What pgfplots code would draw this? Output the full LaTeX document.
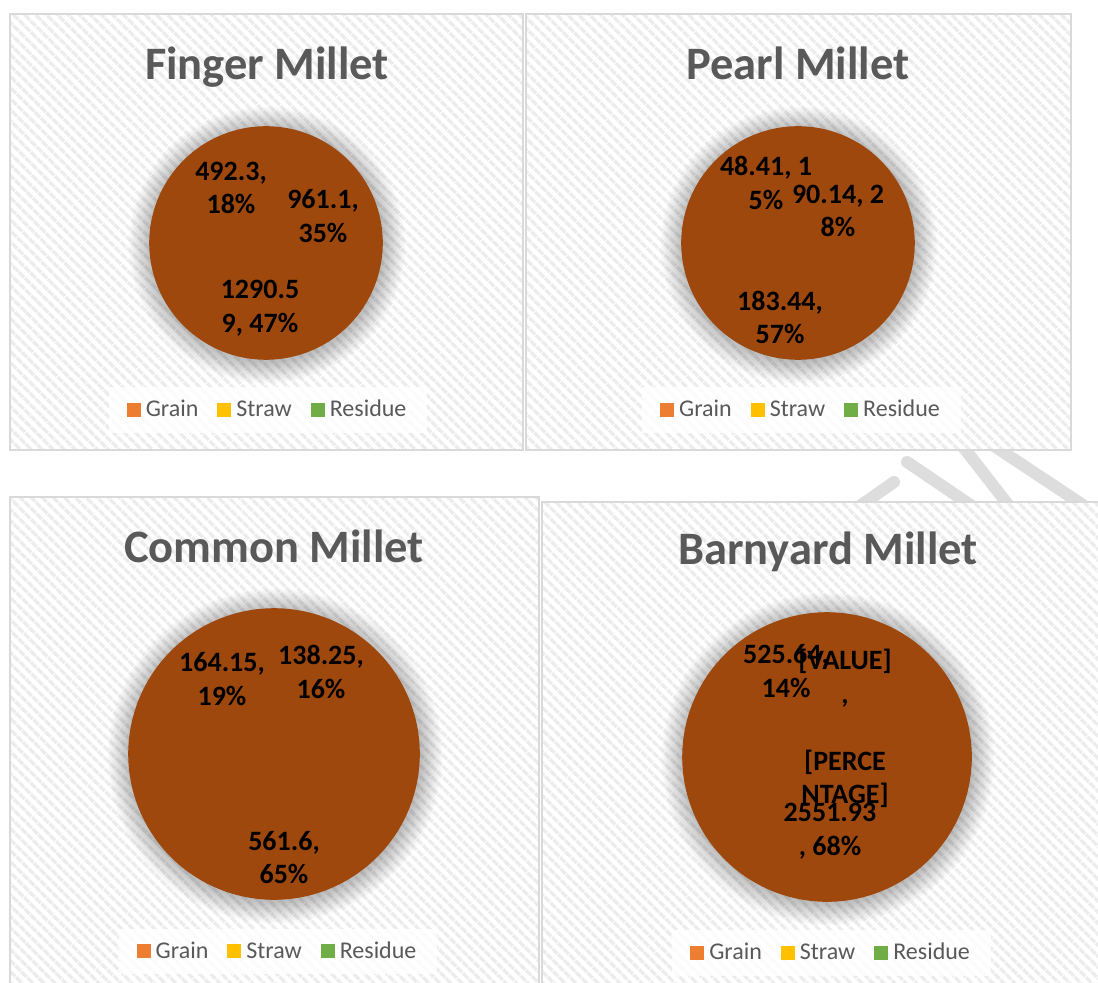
\documentclass[border=0pt]{standalone}
\usepackage{fontspec}
\setmainfont{Carlito}
\usepackage{pgfplots}
\pgfplotsset{compat=1.18}
\usepackage{pgfplotstable}
\usetikzlibrary{patterns.meta}

\definecolor{piebrown}{RGB}{158,72,14}
\definecolor{grainC}{RGB}{237,125,49}
\definecolor{strawC}{RGB}{255,192,0}
\definecolor{residueC}{RGB}{112,173,71}
\definecolor{titlegray}{RGB}{89,89,89}
\definecolor{bordergray}{RGB}{217,217,217}
\definecolor{stripe}{RGB}{236,236,236}
\definecolor{wm}{RGB}{221,221,221}

\pgfplotstableread{
part value
Grain 961.1
Straw 1290.59
Residue 492.3
}\fingerdata
\pgfplotstableread{
part value
Grain 90.14
Straw 183.44
Residue 48.41
}\pearldata
\pgfplotstableread{
part value
Grain 138.25
Straw 561.6
Residue 164.15
}\commondata
\pgfplotstableread{
part value
Grain 675.4
Straw 2551.93
Residue 525.64
}\barnyarddata

% slice angles (Excel: start at 12 o'clock, clockwise)
\newcommand\pieangles[1]{%
  \pgfplotstablegetelem{0}{value}\of#1\let\va\pgfplotsretval
  \pgfplotstablegetelem{1}{value}\of#1\let\vb\pgfplotsretval
  \pgfplotstablegetelem{2}{value}\of#1\let\vc\pgfplotsretval
  \pgfmathsetmacro\tot{\va+\vb+\vc}%
  \pgfmathsetmacro\aA{90}%
  \pgfmathsetmacro\aB{90-(\va/\tot)*360}%
  \pgfmathsetmacro\aC{\aB-(\vb/\tot)*360}%
  \pgfmathsetmacro\aD{\aC-(\vc/\tot)*360}%
}
\tikzset{wedge/.style={fill=piebrown, draw=piebrown, line width=0.8pt, line join=round}}
\newcommand\piewedges[1]{%
  \path[wedge] (axis cs:0,0) -- (axis cs:{#1*cos(\aA)},{#1*sin(\aA)}) arc[start angle=\aA, end angle=\aB, radius=#1*0.5pt] -- cycle;
  \path[wedge] (axis cs:0,0) -- (axis cs:{#1*cos(\aB)},{#1*sin(\aB)}) arc[start angle=\aB, end angle=\aC, radius=#1*0.5pt] -- cycle;
  \path[wedge] (axis cs:0,0) -- (axis cs:{#1*cos(\aC)},{#1*sin(\aC)}) arc[start angle=\aC, end angle=\aD, radius=#1*0.5pt] -- cycle;
}
\newcommand\pielegend{%
  \addlegendimage{legend image code/.code={\path[draw=none, opacity=0] (0pt,0pt) -- (8pt,0pt); \fill[grainC, draw=none, fill opacity=1] (0pt,-3.3pt) rectangle (7pt,3.7pt);}}
  \addlegendentry{Grain\vphantom{d}}
  \addlegendimage{legend image code/.code={\path[draw=none, opacity=0] (0pt,0pt) -- (8pt,0pt); \fill[strawC, draw=none, fill opacity=1] (0pt,-3.3pt) rectangle (7pt,3.7pt);}}
  \addlegendentry{Straw\vphantom{d}}
  \addlegendimage{legend image code/.code={\path[draw=none, opacity=0] (0pt,0pt) -- (8pt,0pt); \fill[residueC, draw=none, fill opacity=1] (0pt,-3.3pt) rectangle (7pt,3.7pt);}}
  \addlegendentry{Residue\vphantom{d}}
}

\pgfplotsset{
  pieaxis/.style={
    anchor=center, x=0.5pt, y=0.5pt,
    xmin=-#1, xmax=#1, ymin=-#1, ymax=#1,
    hide axis, scale only axis, clip=false,
    legend columns=3,
    legend cell align=left,
    legend style={draw=none, fill=white, fill opacity=0.8, text opacity=1,
      anchor=center, text=titlegray,
      font=\fontsize{12}{14}\selectfont,
      inner xsep=9pt, inner ysep=5pt,
      nodes={inner sep=1.5pt, font=\fontsize{12}{14}\selectfont},
      /tikz/every even column/.append style={column sep=8pt}},
  },
}
\tikzset{
  ttl/.style={anchor=base, text=titlegray, font=\bfseries\fontsize{23.25}{28}\selectfont},
  lbl/.style={align=center, text=black, font=\bfseries\fontsize{14}{16.75}\selectfont},
}

\begin{document}
\begin{tikzpicture}
\begin{scope}[x=0.5pt,y=-0.5pt]
  \path[use as bounding box, fill=white] (0,0) rectangle (1098,983);
  % watermark strokes visible between the panels
  \begin{scope}[wm, line width=6pt, line cap=round]
    \draw (840,520) -- (894,482);
    \draw (907,462) -- (1000,525);
    \draw (950,430) -- (1020,520);
    \draw (970,430) -- (1098,515);
  \end{scope}
  % panels
  \foreach \a/\b/\c/\d in {10/14/523/450, 526/14/1071/450, 10/497/539/995, 542/502/1110/995}{
    \fill[white] (\a,\b) rectangle (\c,\d);
    \fill[pattern={Lines[angle=-45,distance=4pt,line width=1.8pt]}, pattern color=stripe] (\a,\b) rectangle (\c,\d);
    \draw[bordergray, line width=1.2pt] (\a,\b) rectangle (\c,\d);
  }
  % soft shadows around pies
  \foreach \cx/\cy/\r in {266/243/116, 798/243/116, 274/754/145, 827/757/144}{
    \foreach \k in {1,...,16}{
      \fill[black, opacity=0.014] (\cx+1,\cy+2) circle[radius=\r+\k*1.4];
    }
  }
\end{scope}

% ---------- Finger Millet ----------
\pieangles{\fingerdata}
\begin{axis}[pieaxis=116, at={(133pt,-121.5pt)},
  legend style={at={(0.509,-0.2198)}}]
  \piewedges{116}
  \pielegend
  \node[ttl] at (axis cs:1,163) {Finger Millet};
  \node[lbl] at (axis cs:57,27) {961.1,\\35\%};
  \node[lbl] at (axis cs:-6,-65) {1290.5\\9, 47\%};
  \node[lbl] at (axis cs:-35,55) {492.3,\\18\%};
\end{axis}

% ---------- Pearl Millet ----------
\pieangles{\pearldata}
\begin{axis}[pieaxis=116, at={(399pt,-121.5pt)},
  legend style={at={(0.515,-0.2198)}}]
  \piewedges{116}
  \pielegend
  \node[ttl] at (axis cs:0,163) {Pearl Millet};
  \node[lbl] at (axis cs:40,32) {90.14, 2\\8\%};
  \node[lbl] at (axis cs:-18,-74.5) {183.44,\\57\%};
  \node[lbl] at (axis cs:-32,60) {48.41, 1\\5\%};
\end{axis}

% ---------- Common Millet ----------
\pieangles{\commondata}
\begin{axis}[pieaxis=145, at={(137pt,-377pt)},
  legend style={at={(0.514,-0.181)}}]
  \piewedges{145}
  \pielegend
  \node[ttl] at (axis cs:0,191) {Common Millet};
  \node[lbl] at (axis cs:47,82) {138.25,\\16\%};
  \node[lbl] at (axis cs:10,-103.5) {561.6,\\65\%};
  \node[lbl] at (axis cs:-52,75) {164.15,\\19\%};
\end{axis}

% ---------- Barnyard Millet ----------
\pieangles{\barnyarddata}
\begin{axis}[pieaxis=144, at={(413.5pt,-378.5pt)},
  legend style={at={(0.516,-0.1806)}}]
  \piewedges{144}
  \pielegend
  \node[ttl] at (axis cs:1,192) {Barnyard Millet};
  \node[lbl] at (axis cs:-41,86) {525.64,\\14\%};
  \node[lbl] at (axis cs:18,28.5) {[VALUE]\\,\\\strut\\{}[PERCE\\NTAGE]};
  \node[lbl] at (axis cs:3,-74) {2551.93\\, 68\%};
\end{axis}
\end{tikzpicture}
\end{document}
